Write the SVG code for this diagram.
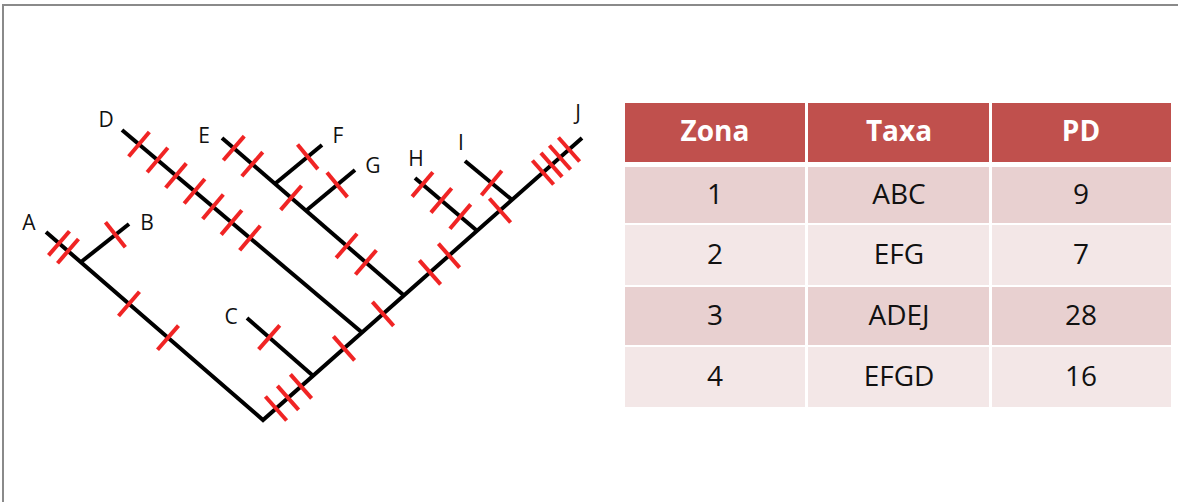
<svg xmlns="http://www.w3.org/2000/svg" xmlns:xlink="http://www.w3.org/1999/xlink" width="1178" height="502" viewBox="0 0 1178 502">
<style>
.br{fill:none;stroke:#000;stroke-width:4;stroke-linejoin:miter}
.tk{stroke:#f02424;stroke-width:4}
.lb{font-family:"Open Sans","Noto Sans","Liberation Sans",sans-serif;font-size:21px;fill:#111;text-anchor:middle}
.th{font-family:"Open Sans","Noto Sans","Liberation Sans",sans-serif;font-size:28px;font-weight:bold;fill:#fff;text-anchor:middle}
.td{font-family:"Open Sans","Noto Sans","Liberation Sans",sans-serif;font-size:28px;fill:#111;text-anchor:middle}
.hd{fill:#c0504d}
.r1{fill:#e8d0d0}
.r2{fill:#f3e7e7}
</style>
<defs>
<line id="t" class="tk" x1="0" y1="-16" x2="0" y2="16"/>
</defs>
<rect x="0" y="0" width="1178" height="502" fill="#fff"/>
<path d="M3,502 V5 H1178" fill="none" stroke="#8a8a8a" stroke-width="2"/>

<g id="connectors">
<polyline class="br" points="46,232 263,420 582,138"/>
<line class="br" x1="81" y1="262" x2="129" y2="224"/>
<line class="br" x1="122" y1="130" x2="362" y2="332.5"/>
<line class="br" x1="222" y1="138" x2="404" y2="295.4"/>
<line class="br" x1="275" y1="183.8" x2="322" y2="145"/>
<line class="br" x1="306" y1="210.7" x2="355" y2="170"/>
<line class="br" x1="247" y1="318" x2="313" y2="375.8"/>
<line class="br" x1="415" y1="178" x2="477" y2="230.8"/>
<line class="br" x1="465" y1="161" x2="512" y2="199.9"/>
</g>

<g id="ticks">
<use xlink:href="#t" transform="translate(59,243.3) rotate(40.9)"/>
<use xlink:href="#t" transform="translate(68,251.1) rotate(40.9)"/>
<use xlink:href="#t" transform="translate(129,303.9) rotate(40.9)"/>
<use xlink:href="#t" transform="translate(168,337.7) rotate(40.9)"/>
<use xlink:href="#t" transform="translate(115.4,234.8) rotate(-38.4)"/>
<use xlink:href="#t" transform="translate(139,144.3) rotate(40.2)"/>
<use xlink:href="#t" transform="translate(157.5,160) rotate(40.2)"/>
<use xlink:href="#t" transform="translate(176,175.6) rotate(40.2)"/>
<use xlink:href="#t" transform="translate(194.5,191.2) rotate(40.2)"/>
<use xlink:href="#t" transform="translate(213,206.8) rotate(40.2)"/>
<use xlink:href="#t" transform="translate(231.5,222.4) rotate(40.2)"/>
<use xlink:href="#t" transform="translate(250,238) rotate(40.2)"/>
<use xlink:href="#t" transform="translate(233.8,148.2) rotate(40.85)"/>
<use xlink:href="#t" transform="translate(252.3,164.2) rotate(40.85)"/>
<use xlink:href="#t" transform="translate(291.1,197.8) rotate(40.85)"/>
<use xlink:href="#t" transform="translate(346.6,245.8) rotate(40.85)"/>
<use xlink:href="#t" transform="translate(365.9,262.4) rotate(40.85)"/>
<use xlink:href="#t" transform="translate(307.7,156.8) rotate(-39.5)"/>
<use xlink:href="#t" transform="translate(337.2,184.8) rotate(-39.7)"/>
<use xlink:href="#t" transform="translate(269.2,337.4) rotate(41.2)"/>
<use xlink:href="#t" transform="translate(422.5,184.4) rotate(40.4)"/>
<use xlink:href="#t" transform="translate(441.3,200.4) rotate(40.4)"/>
<use xlink:href="#t" transform="translate(460.3,216.6) rotate(40.4)"/>
<use xlink:href="#t" transform="translate(491.6,183) rotate(39.6)"/>
<use xlink:href="#t" transform="translate(276,408.5) rotate(-41.5)"/>
<use xlink:href="#t" transform="translate(288,397.9) rotate(-41.5)"/>
<use xlink:href="#t" transform="translate(301,386.4) rotate(-41.5)"/>
<use xlink:href="#t" transform="translate(344,348.4) rotate(-41.5)"/>
<use xlink:href="#t" transform="translate(383,313.9) rotate(-41.5)"/>
<use xlink:href="#t" transform="translate(430,272.4) rotate(-41.5)"/>
<use xlink:href="#t" transform="translate(449,255.6) rotate(-41.5)"/>
<use xlink:href="#t" transform="translate(500,210.5) rotate(-41.5)"/>
<use xlink:href="#t" transform="translate(543,172.5) rotate(-41.5)"/>
<use xlink:href="#t" transform="translate(551.5,164.9) rotate(-41.5)"/>
<use xlink:href="#t" transform="translate(560,157.5) rotate(-41.5)"/>
<use xlink:href="#t" transform="translate(569,149.5) rotate(-41.5)"/>
</g>

<g id="node-A"><text class="lb" x="29" y="229.5">A</text></g>
<g id="node-B"><text class="lb" x="147" y="229.5">B</text></g>
<g id="node-C"><text class="lb" x="231" y="323.5">C</text></g>
<g id="node-D"><text class="lb" x="106" y="126.5">D</text></g>
<g id="node-E"><text class="lb" x="204" y="142.5">E</text></g>
<g id="node-F"><text class="lb" x="338" y="142.5">F</text></g>
<g id="node-G"><text class="lb" x="373" y="172.5">G</text></g>
<g id="node-H"><text class="lb" x="416" y="165.5">H</text></g>
<g id="node-I"><text class="lb" x="461" y="149.5">I</text></g>
<g id="node-J"><text class="lb" x="578" y="119.5">J</text></g>

<g id="table">
<rect class="hd" x="625" y="103" width="180" height="59"/>
<rect class="hd" x="808" y="103" width="181" height="59"/>
<rect class="hd" x="992" y="103" width="179" height="59"/>
<rect class="r1" x="625" y="167" width="180" height="56"/>
<rect class="r1" x="808" y="167" width="181" height="56"/>
<rect class="r1" x="992" y="167" width="179" height="56"/>
<rect class="r2" x="625" y="225" width="180" height="60"/>
<rect class="r2" x="808" y="225" width="181" height="60"/>
<rect class="r2" x="992" y="225" width="179" height="60"/>
<rect class="r1" x="625" y="287" width="180" height="58"/>
<rect class="r1" x="808" y="287" width="181" height="58"/>
<rect class="r1" x="992" y="287" width="179" height="58"/>
<rect class="r2" x="625" y="347" width="180" height="60"/>
<rect class="r2" x="808" y="347" width="181" height="60"/>
<rect class="r2" x="992" y="347" width="179" height="60"/>
<text class="th" x="715" y="141">Zona</text>
<text class="th" x="899" y="141">Taxa</text>
<text class="th" x="1081" y="141">PD</text>
<text class="td" x="715" y="204">1</text>
<text class="td" x="899" y="204">ABC</text>
<text class="td" x="1081" y="204">9</text>
<text class="td" x="715" y="264">2</text>
<text class="td" x="899" y="264">EFG</text>
<text class="td" x="1081" y="264">7</text>
<text class="td" x="715" y="325">3</text>
<text class="td" x="899" y="325">ADEJ</text>
<text class="td" x="1081" y="325">28</text>
<text class="td" x="715" y="386">4</text>
<text class="td" x="899" y="386">EFGD</text>
<text class="td" x="1081" y="386">16</text>
</g>
</svg>
